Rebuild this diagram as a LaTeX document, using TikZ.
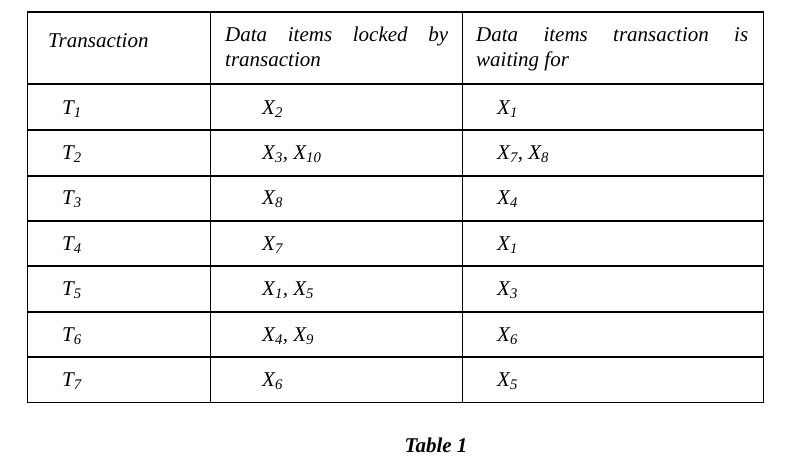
\documentclass[tikz,border=0pt]{standalone}
\usepackage{fontspec}
\setmainfont{Liberation Serif}
\newcommand{\mysub}[1]{\textsubscript{#1}}
\begin{document}
\begin{tikzpicture}[x=1pt,y=-1pt,
  thick line/.style={line width=2pt},
  thin line/.style={line width=1pt},
  cell/.style={anchor=base west,inner sep=0pt,font=\fontsize{21}{25}\selectfont\itshape},
  hcell/.style={anchor=north west,inner sep=0pt,align=left,font=\fontsize{21}{25}\selectfont\itshape}]
\useasboundingbox (0,0) rectangle (799,469);
% grid
\draw[thin line] (27,12) -- (27,402) -- (763,402) -- (763,12);
\draw[thin line] (210,12) -- (210,402);
\draw[thin line] (462,12) -- (462,402);
\foreach \y in {12,84,130,176,221,266,312,357}
  \draw[thick line] (26.5,\y) -- (763.5,\y);
% header
\node[cell] (h1) at (48,47) {Transaction};
\node[hcell] (h2) at (225,27) {\makebox[223pt][s]{Data items locked by}\\transaction};
\node[hcell] (h3) at (476,27) {\makebox[272pt][s]{Data items transaction is}\\waiting for};
% rows
\foreach \i/\a/\b/\c in {1/{T\mysub{1}}/{X\mysub{2}}/{X\mysub{1}},
  2/{T\mysub{2}}/{X\mysub{3}, X\mysub{10}}/{X\mysub{7}, X\mysub{8}},
  3/{T\mysub{3}}/{X\mysub{8}}/{X\mysub{4}},
  4/{T\mysub{4}}/{X\mysub{7}}/{X\mysub{1}},
  5/{T\mysub{5}}/{X\mysub{1}, X\mysub{5}}/{X\mysub{3}},
  6/{T\mysub{6}}/{X\mysub{4}, X\mysub{9}}/{X\mysub{6}},
  7/{T\mysub{7}}/{X\mysub{6}}/{X\mysub{5}}}{
  \pgfmathsetmacro{\yy}{84+(\i-1)*45.4+30}
  \node[cell] (a\i) at (62,\yy) {\a};
  \node[cell] (b\i) at (262,\yy) {\b};
  \node[cell] (c\i) at (497,\yy) {\c};
}
\node[anchor=base,inner sep=0pt,font=\fontsize{21}{25}\selectfont\bfseries\itshape] (cap) at (436,452) {Table 1};
\end{tikzpicture}
\end{document}
